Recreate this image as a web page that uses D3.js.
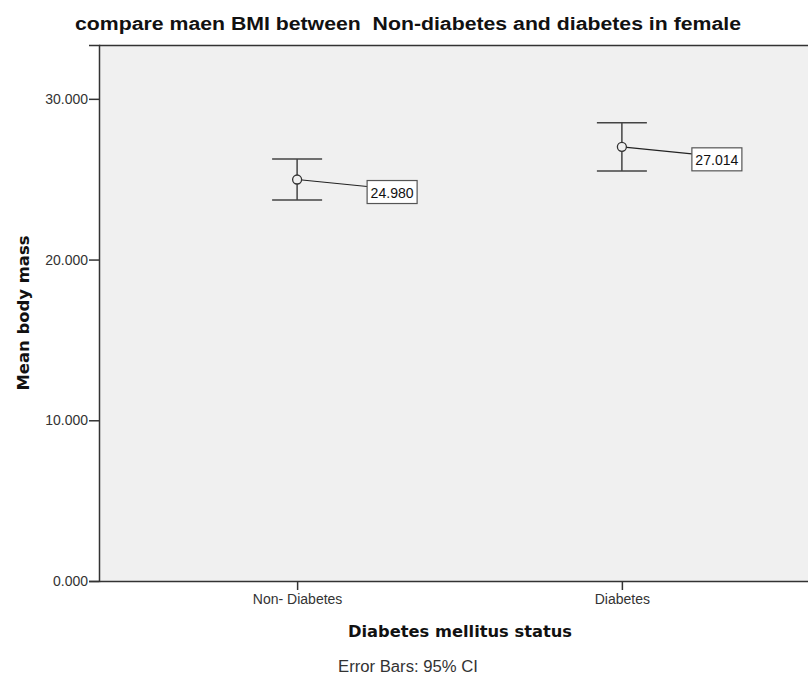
<!DOCTYPE html>
<html><head><meta charset="utf-8">
<script src="https://cdn.jsdelivr.net/npm/d3@7"></script>
<style>body{margin:0;background:#fff;} svg{display:block;} text{white-space:pre;}</style>
</head><body>
<svg id="c" width="808" height="684"></svg>
<script>
const categories = ["Non- Diabetes", "Diabetes"];
const means = [24.980, 27.014];
const ciLower = [23.71, 25.51];
const ciUpper = [26.26, 28.52];
const meanLabels = ["24.980", "27.014"];
const yTicks = [0, 10, 20, 30];
const titleText = "compare maen BMI between  Non-diabetes and diabetes in female";
const xTitle = "Diabetes mellitus status";
const yTitle = "Mean body mass";
const footnote = "Error Bars: 95% CI";

const svg = d3.select("#c");
const m = {left: 99, right: 820, top: 45, bottom: 581};
const font = "Arial, 'Liberation Sans', sans-serif";
const boldFont = "'DejaVu Sans', Verdana, sans-serif";

const x = d3.scalePoint().domain(categories).range([m.left, m.right]).padding(0.61);
const y = d3.scaleLinear().domain([0, 33.35]).range([m.bottom, m.top]);

svg.append("rect").attr("x", m.left).attr("y", m.top)
  .attr("width", m.right - m.left).attr("height", m.bottom - m.top).attr("fill", "#f0f0f0");
svg.append("line").attr("x1", m.left).attr("x2", m.right).attr("y1", m.top + 0.5).attr("y2", m.top + 0.5)
  .attr("stroke", "#333").attr("stroke-width", 1.5);

// y axis
const ya = svg.append("g").attr("transform", `translate(${m.left},0)`)
  .call(d3.axisLeft(y).tickValues(yTicks).tickFormat(d3.format(".3f")).tickSize(10).tickPadding(1));
ya.select(".domain").attr("stroke", "#333").attr("stroke-width", 1.5);
ya.selectAll(".tick line").attr("stroke", "#333").attr("stroke-width", 1.5);
ya.selectAll("text").attr("font-family", font).attr("font-size", 14).attr("fill", "#333");

// x axis
const xa = svg.append("g").attr("transform", `translate(0,${m.bottom})`)
  .call(d3.axisBottom(x).tickSize(9).tickSizeOuter(0).tickPadding(4));
xa.select(".domain").attr("stroke", "#333").attr("stroke-width", 1.5);
xa.selectAll(".tick line").attr("stroke", "#333").attr("stroke-width", 1.5);
xa.selectAll("text").attr("font-family", font).attr("font-size", 14).attr("fill", "#333");

// error bars
const data = categories.map((c, i) => ({c, mean: means[i], lo: ciLower[i], hi: ciUpper[i], label: meanLabels[i]}));
const g = svg.append("g");
const cap = 25;
data.forEach(d => {
  const cx = x(d.c);
  g.append("line").attr("x1", cx).attr("x2", cx).attr("y1", y(d.hi)).attr("y2", y(d.lo))
    .attr("stroke", "#444").attr("stroke-width", 1.5);
  [d.hi, d.lo].forEach(v => g.append("line").attr("x1", cx - cap).attr("x2", cx + cap)
    .attr("y1", y(v)).attr("y2", y(v)).attr("stroke", "#444").attr("stroke-width", 1.5));
  const bx = cx + 70, by = y(d.mean) + 1;
  g.append("line").attr("x1", cx).attr("y1", y(d.mean)).attr("x2", bx).attr("y2", by + 6)
    .attr("stroke", "#222").attr("stroke-width", 1.2);
  g.append("circle").attr("cx", cx).attr("cy", y(d.mean)).attr("r", 4.5)
    .attr("fill", "#f0f0f0").attr("stroke", "#333").attr("stroke-width", 1.3);
  g.append("rect").attr("x", bx).attr("y", by).attr("width", 50).attr("height", 23)
    .attr("fill", "#fff").attr("stroke", "#555").attr("stroke-width", 1.2);
  g.append("text").attr("x", bx + 25).attr("y", by + 17).attr("text-anchor", "middle")
    .attr("font-family", font).attr("font-size", 14).attr("fill", "#111")
    .attr("textLength", 43).attr("lengthAdjust", "spacingAndGlyphs").text(d.label);
});

// titles
svg.append("text").attr("x", 408).attr("y", 30).attr("text-anchor", "middle")
  .attr("font-family", font).attr("font-weight", "bold").attr("font-size", 18).attr("fill", "#111")
  .attr("textLength", 666).attr("lengthAdjust", "spacingAndGlyphs").text(titleText);
svg.append("text").attr("x", 460).attr("y", 637).attr("text-anchor", "middle")
  .attr("font-family", boldFont).attr("font-weight", "bold").attr("font-size", 16).attr("fill", "#111")
  .attr("textLength", 224).attr("lengthAdjust", "spacingAndGlyphs").text(xTitle);
svg.append("text").attr("transform", `translate(29,${(m.top + m.bottom) / 2}) rotate(-90)`).attr("text-anchor", "middle")
  .attr("font-family", boldFont).attr("font-weight", "bold").attr("font-size", 16).attr("fill", "#111")
  .attr("textLength", 155).attr("lengthAdjust", "spacingAndGlyphs").text(yTitle);
svg.append("text").attr("x", 408).attr("y", 672).attr("text-anchor", "middle")
  .attr("font-family", font).attr("font-size", 16).attr("fill", "#333")
  .attr("textLength", 140).attr("lengthAdjust", "spacingAndGlyphs").text(footnote);
</script>
</body></html>
